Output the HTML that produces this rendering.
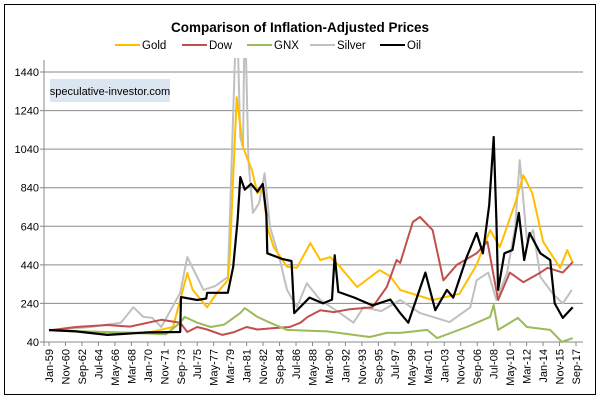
<!DOCTYPE html>
<html><head><meta charset="utf-8"><style>
body{margin:0;background:#fff;}
svg{display:block;font-family:"Liberation Sans",Arial,sans-serif;}
</style></head><body>
<svg id="chart" width="600" height="400" viewBox="0 0 600 400">
<rect x="4.5" y="4.5" width="591" height="390" fill="#fff" stroke="#000" stroke-width="1"/>
<text x="300" y="32" text-anchor="middle" font-size="13.5" font-weight="bold" fill="#000">Comparison of Inflation-Adjusted Prices</text>
<g id="legend"></g>
<g id="grid"></g>
<g id="yaxis"></g>
<g id="xaxis"></g>
<defs><clipPath id="pc"><rect x="44" y="58" width="540" height="290"/></clipPath></defs>
<g id="series" clip-path="url(#pc)"></g>
<rect x="50" y="79" width="120" height="23" fill="#dce6f1"/>
<text x="110" y="95" text-anchor="middle" font-size="11" fill="#000">speculative-investor.com</text>
</svg>
<script>
const yTicks=[40,240,440,640,840,1040,1240,1440];
const xLabels=["Jan-59","Nov-60","Sep-62","Jul-64","May-66","Mar-68","Jan-70","Nov-71","Sep-73","Jul-75","May-77","Mar-79","Jan-81","Nov-82","Sep-84","Jul-86","May-88","Mar-90","Jan-92","Nov-93","Sep-95","Jul-97","May-99","Mar-01","Jan-03","Nov-04","Sep-06","Jul-08","May-10","Mar-12","Jan-14","Nov-15","Sep-17"];
const seriesNames=["Gold","Dow","GNX","Silver","Oil"];
const goldT=[1959,1962,1966,1970,1972.8,1973.6,1974.4,1975,1976.6,1977.7,1978.9,1979.1,1979.9,1980.6,1981.6,1982.2,1982.8,1983.3,1984,1985.5,1986.6,1988.1,1989.2,1990.3,1991.4,1993.3,1995.8,1997,1998.1,2001.7,2004.7,2006.6,2008.1,2009.2,2010.9,2011.8,2012.8,2014,2015.9,2016.7,2017.3];
const goldV=[100,95,90,88,118,258,398,310,220,295,360,465,1310,1050,930,810,840,637,533,430,425,553,465,480,430,325,413,380,310,258,290,440,620,533,760,905,812,560,425,517,450];
const dowT=[1959,1962,1965.5,1968,1971.5,1973.6,1974.4,1975.5,1976.6,1978.3,1979.5,1981,1982.2,1984,1985.8,1987,1987.8,1989.2,1990.7,1992.5,1995,1996.6,1997.7,1998.1,1999.5,2000.3,2001.7,2002.9,2004.4,2006.6,2007.8,2009,2010.3,2011.8,2013.7,2014.5,2016.2,2017.3];
const dowV=[100,118,128,120,155,140,92,118,105,77,90,118,105,112,118,140,170,205,195,210,220,325,465,450,662,688,620,360,440,500,560,258,400,350,400,425,400,455];
const gnxT=[1959,1963,1967,1972,1973.6,1974.1,1975.5,1977,1978.5,1980.3,1980.8,1982.2,1983.6,1985.5,1988,1990,1992.9,1994.7,1996.6,1998.1,2001.1,2002.2,2005.5,2008.1,2008.5,2009,2011.2,2012.2,2014.8,2016.1,2017.3];
const gnxV=[100,95,90,80,140,170,140,118,130,190,216,170,140,103,98,95,77,66,87,87,103,60,118,170,232,103,165,118,103,40,60];
const silverT=[1959,1963.6,1967,1968.4,1969.5,1970.5,1971.5,1973.6,1974.4,1975.5,1976.2,1977.5,1978.9,1979.1,1979.9,1980.3,1980.6,1980.8,1981.2,1981.7,1982.4,1983,1983.6,1984.7,1985.5,1986.6,1987.7,1989.2,1991.4,1992.9,1994,1996,1998.1,2000.3,2003.6,2005.9,2006.6,2007.9,2008.8,2010,2010.9,2011.4,2012.2,2012.9,2013.7,2015.1,2016.2,2017.2];
const silverV=[100,118,140,220,170,165,118,295,480,377,310,330,377,637,1800,1100,1050,1800,983,710,760,915,637,465,310,220,345,258,190,140,220,200,258,190,143,220,360,400,258,400,637,983,570,620,377,290,240,310];
const oilT=[1959,1962,1965.5,1970,1973.6,1973.7,1975.5,1976.5,1976.6,1977.7,1978.9,1979.5,1980,1980.3,1980.8,1981.5,1982.2,1982.8,1983.2,1983.3,1985,1986,1986.3,1988,1989.5,1990.5,1990.8,1991.2,1993,1995,1997,1998.1,1999,2000.9,2002,2003.3,2004,2005.5,2006.6,2007.3,2008,2008.5,2008.8,2009,2009.7,2010.6,2011.3,2011.9,2012.5,2013.7,2014.8,2015.3,2016.2,2017.3];
const oilV=[102,95,77,90,92,273,258,265,295,295,295,430,672,895,830,860,820,860,700,500,470,460,190,270,240,260,490,300,270,230,260,190,140,400,205,310,270,480,605,500,750,1103,670,310,500,517,710,465,605,500,465,240,165,220];
const colors=["#ffbf00","#c0504d","#9bbb59","#c0c0c0","#000000"];
const widths=[2,2,2,2,2.2];

const NS="http://www.w3.org/2000/svg";
const X0=44,X1=583,Y0=342,Y1=72;
function xScale(yr){return 49+(yr-1959)*12*(527/704);}
function yScale(v){return Y0-(v-40)*(Y0-Y1)/1400;}
function mk(tag,attrs,parent){const e=document.createElementNS(NS,tag);for(const k in attrs)e.setAttribute(k,attrs[k]);parent.appendChild(e);return e;}
const grid=document.getElementById('grid'),yax=document.getElementById('yaxis'),xax=document.getElementById('xaxis'),ser=document.getElementById('series'),leg=document.getElementById('legend');
yTicks.forEach(v=>{
  const y=yScale(v);
  const l=mk('line',{x1:X0-4,x2:X1,y1:y,y2:y,stroke:v===40?'#888':'#8a8a8a','stroke-width':1},grid);
  
  
  const t=mk('text',{x:39,y:y+4,'text-anchor':'end','font-size':11,fill:'#000'},yax);
  t.textContent=v;
  
  
});
const ya=mk('line',{x1:X0,x2:X0,y1:60,y2:Y0+4,stroke:'#888'},yax);


xLabels.forEach((s,i)=>{
  const x=xScale(1959+i*22/12);
  const tk=mk('line',{x1:x,x2:x,y1:Y0,y2:Y0+4,stroke:'#888'},xax);
  
  
  const t=mk('text',{x:0,y:0,transform:`translate(${x+4},${Y0+7}) rotate(-90)`,'text-anchor':'end','font-size':11,fill:'#000'},xax);
  t.textContent=s;
  
  
});
const data=[[goldT,goldV],[dowT,dowV],[gnxT,gnxV],[silverT,silverV],[oilT,oilV]];
const order=[3,0,1,2,4];
order.forEach(i=>{
  const [T,V]=data[i];
  const pts=T.map((t,j)=>xScale(t).toFixed(1)+','+yScale(V[j]).toFixed(1)).join(' ');
  const p=mk('polyline',{points:pts,fill:'none',stroke:colors[i],'stroke-width':widths[i],'stroke-linejoin':'round'},ser);
  
  
});
const legX=[115,182,247,310,380];
seriesNames.forEach((n,i)=>{
  const l=mk('line',{x1:legX[i],x2:legX[i]+25,y1:45,y2:45,stroke:colors[i],'stroke-width':2},leg);
  
  
  const t=mk('text',{x:legX[i]+27,y:49,'font-size':11.5,fill:'#000'},leg);
  t.textContent=n;
  
  
});
</script>
</body></html>
